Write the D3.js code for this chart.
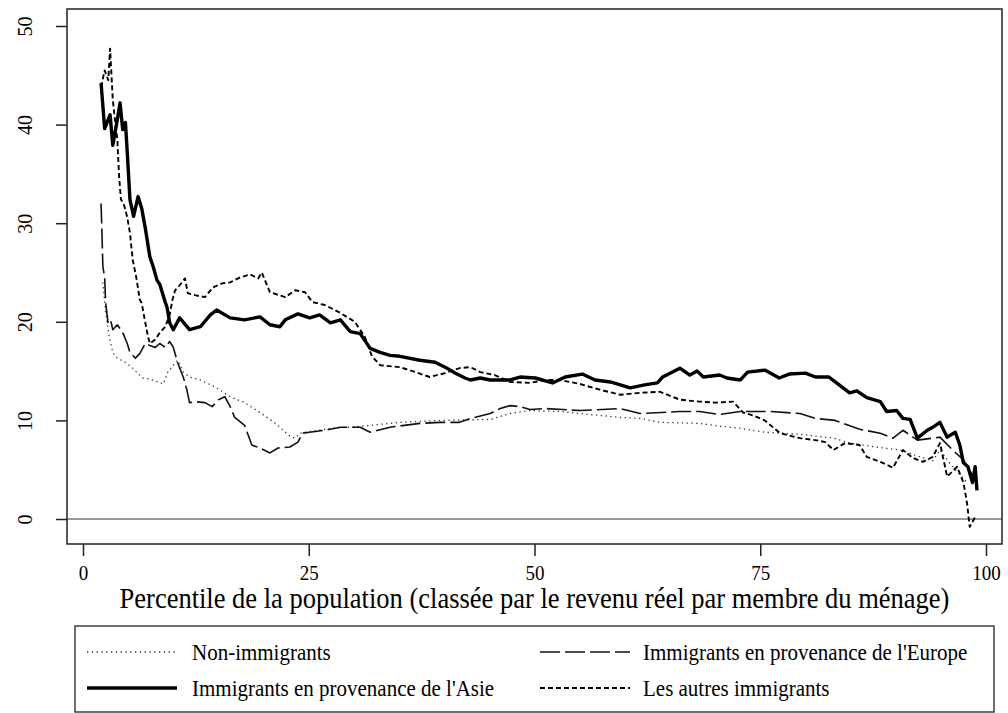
<!DOCTYPE html>
<html>
<head>
<meta charset="utf-8">
<script src="https://cdn.jsdelivr.net/npm/d3@7"></script>
<style>
  body { margin: 0; background: #fff; }
  text { font-family: "Liberation Serif", "Times New Roman", serif; fill: #000; }
</style>
</head>
<body>
<svg></svg>
<script>
const width = 1008;
const height = 713;

// percentile, value pairs
const nonImmigrants = [
  [2.2,24.0],[2.5,21.0],[2.9,18.5],[3.3,16.9],[3.8,16.3],[4.7,15.9],[5.5,15.3],[6.6,14.3],
  [7.4,14.2],[8.3,13.9],[8.9,13.7],[9.4,14.9],[10.0,15.6],[10.5,16.1],[11.1,14.9],[11.8,14.4],
  [13.0,14.1],[14.6,13.4],[16.3,12.4],[17.9,11.8],[19.6,10.8],[21.3,9.7],[22.9,8.4],[23.5,8.2],
  [24.0,8.7],[27.4,9.2],[30.7,9.4],[35.1,9.8],[39.5,10.0],[45.1,10.1],[47.3,10.7],[49.5,11.0],
  [52.8,10.9],[55.0,10.7],[59.5,10.3],[61.7,10.2],[63.9,9.8],[68.3,9.7],[70.5,9.4],[72.8,9.2],
  [75.5,8.8],[79.4,8.6],[83.1,8.2],[84.9,7.7],[88.6,7.2],[90.5,7.0],[92.7,6.3],[94.1,5.9],
  [94.9,7.0],[96.3,5.3],[97.9,3.7]
];

const europe = [
  [2.0,32.0],[2.1,29.0],[2.2,25.6],[2.4,24.5],[2.5,22.0],[2.8,19.7],[3.1,20.0],[3.3,19.2],
  [3.8,19.7],[4.4,18.9],[4.9,17.8],[5.2,16.9],[5.8,16.3],[6.3,16.8],[6.9,17.8],[7.4,17.6],
  [8.0,17.4],[8.5,17.8],[9.1,17.4],[9.6,18.0],[10.0,17.4],[10.5,15.8],[11.1,14.4],[11.5,13.1],
  [11.8,11.8],[12.4,11.9],[13.5,11.8],[14.3,11.4],[15.0,12.1],[15.7,12.4],[16.3,11.4],[16.8,10.3],
  [17.9,9.5],[18.3,8.5],[18.7,7.5],[19.6,7.2],[20.7,6.7],[21.6,7.2],[22.9,7.3],[23.8,7.8],
  [24.3,8.7],[25.1,8.8],[26.8,9.0],[28.5,9.3],[30.7,9.3],[31.8,8.8],[34.0,9.3],[37.3,9.7],
  [39.5,9.8],[41.7,9.8],[42.9,10.2],[45.1,10.7],[46.2,11.2],[47.3,11.5],[48.4,11.4],[49.5,11.1],
  [51.2,11.2],[55.0,11.0],[59.5,11.2],[61.7,10.7],[66.1,10.9],[68.3,10.9],[70.5,10.6],[72.8,10.9],
  [76.1,10.9],[79.4,10.7],[81.1,10.2],[83.3,10.0],[84.2,9.7],[86.0,9.1],[88.3,8.7],[89.7,8.2],
  [90.8,9.0],[92.4,8.0],[94.9,8.3],[96.3,7.0],[97.5,6.0],[98.6,4.3],[99.0,3.5]
];

const asia = [
  [2.0,44.2],[2.4,39.6],[3.0,41.0],[3.3,37.9],[3.8,40.5],[4.1,42.2],[4.4,39.5],[4.7,40.2],
  [4.9,37.2],[5.2,32.4],[5.6,30.7],[6.1,32.7],[6.5,31.5],[6.9,29.5],[7.4,26.6],[7.8,25.5],
  [8.2,24.2],[8.5,23.8],[9.1,22.0],[9.3,21.5],[9.6,19.9],[10.0,19.2],[10.7,20.4],[11.8,19.2],
  [13.0,19.5],[14.1,20.7],[14.8,21.2],[16.3,20.4],[17.9,20.2],[19.6,20.5],[20.7,19.7],[21.8,19.5],
  [22.4,20.2],[23.8,20.8],[25.1,20.4],[26.2,20.7],[27.4,19.9],[28.5,20.2],[29.6,19.0],[30.7,18.8],
  [31.8,17.3],[32.9,16.9],[34.0,16.6],[35.1,16.5],[37.3,16.1],[39.0,15.9],[40.1,15.4],[41.2,14.8],
  [42.3,14.3],[42.9,14.1],[44.0,14.3],[45.1,14.1],[47.3,14.1],[48.4,14.4],[50.1,14.3],[52.0,13.8],
  [53.4,14.4],[55.3,14.7],[56.7,14.1],[58.4,13.9],[60.6,13.3],[62.2,13.6],[63.6,13.8],[64.2,14.4],
  [66.1,15.3],[67.2,14.6],[68.0,15.0],[68.7,14.4],[70.5,14.6],[71.3,14.3],[72.8,14.1],[73.6,14.9],
  [75.5,15.1],[77.1,14.3],[78.2,14.7],[80.0,14.8],[81.1,14.4],[82.6,14.4],[83.3,13.9],[84.9,12.8],
  [85.7,13.0],[86.8,12.3],[88.3,11.9],[89.0,10.9],[90.1,11.0],[90.8,10.2],[91.6,10.1],[92.4,8.2],
  [93.5,9.0],[94.1,9.3],[94.9,9.8],[95.7,8.3],[96.6,8.8],[97.1,7.5],[97.5,5.7],[98.0,5.3],
  [98.5,3.7],[98.8,5.3],[99.0,2.9]
];

const others = [
  [2.0,43.8],[2.4,45.5],[2.8,44.5],[3.0,47.7],[3.3,42.5],[3.5,40.8],[3.8,38.5],[4.0,34.7],
  [4.2,32.4],[4.5,32.0],[4.9,30.6],[5.2,29.0],[5.5,26.3],[5.9,24.5],[6.3,22.2],[6.5,21.9],
  [6.9,19.9],[7.2,18.5],[7.4,17.8],[8.0,18.2],[8.5,18.9],[9.1,19.5],[9.6,20.7],[9.9,22.2],
  [10.2,23.2],[10.7,23.7],[11.3,24.4],[11.6,22.9],[12.4,22.7],[13.5,22.5],[14.4,23.5],[15.4,23.9],
  [16.3,24.0],[17.4,24.5],[18.5,24.8],[19.4,24.4],[19.8,25.0],[20.7,23.0],[22.4,22.5],[23.5,23.2],
  [24.6,23.0],[25.4,22.0],[26.8,21.7],[28.5,20.9],[30.1,20.0],[31.2,18.5],[32.0,16.5],[32.9,15.6],
  [35.1,15.4],[36.8,14.9],[38.4,14.4],[40.1,14.8],[41.7,15.3],[42.9,15.4],[44.0,14.9],[45.6,14.6],
  [47.3,13.9],[49.5,13.8],[51.2,14.1],[52.8,14.1],[55.0,13.7],[57.3,13.1],[59.5,12.6],[61.7,12.8],
  [63.9,12.9],[66.1,12.1],[68.3,11.9],[70.0,11.8],[72.0,11.9],[73.1,10.8],[74.2,10.5],[75.5,10.0],
  [77.2,8.7],[79.4,8.2],[81.1,8.0],[82.2,7.8],[83.1,7.0],[84.4,7.7],[86.0,7.5],[86.8,6.3],
  [88.3,5.8],[89.7,5.2],[90.8,7.0],[91.9,6.2],[93.0,5.8],[94.1,6.3],[94.9,7.7],[95.7,4.3],
  [96.8,5.3],[97.5,3.7],[97.9,1.6],[98.2,-0.8],[98.8,0.2]
];

const xTicks = [0, 25, 50, 75, 100];
const yTicks = [0, 10, 20, 30, 40, 50];

const seriesNames = [
  'Non-immigrants',
  "Immigrants en provenance de l'Europe",
  "Immigrants en provenance de l'Asie",
  'Les autres immigrants'
];

const styles = {
  'Non-immigrants': { w: 1.3, dash: '1.3,3.5', color: '#333' },
  "Immigrants en provenance de l'Europe": { w: 1.6, dash: '20,5', color: '#111' },
  "Immigrants en provenance de l'Asie": { w: 3.4, dash: null, color: '#000' },
  'Les autres immigrants': { w: 1.9, dash: '5,3', color: '#000' }
};

const svg = d3.select('svg')
  .attr('width', width)
  .attr('height', height);

const frame = { left: 67, top: 9, right: 1002, bottom: 544 };

const x = d3.scaleLinear().domain([0, 100]).range([83, 986]);
const y = d3.scaleLinear().domain([0, 50]).range([519, 26]);

// frame
svg.append('rect')
  .attr('x', frame.left)
  .attr('y', frame.top)
  .attr('width', frame.right - frame.left)
  .attr('height', frame.bottom - frame.top)
  .attr('fill', 'none')
  .attr('stroke', '#222')
  .attr('stroke-width', 1.5);

// zero line
svg.append('line')
  .attr('x1', frame.left).attr('x2', frame.right)
  .attr('y1', y(0)).attr('y2', y(0))
  .attr('stroke', '#333')
  .attr('stroke-width', 1);

// axes
const xAxis = d3.axisBottom(x).tickValues(xTicks).tickSize(12).tickPadding(0);
const gx = svg.append('g')
  .attr('transform', `translate(0,${frame.bottom})`)
  .call(xAxis);
gx.select('.domain').remove();
gx.selectAll('line').attr('stroke', '#222').attr('stroke-width', 1.5);
gx.selectAll('text')
  .attr('font-size', 19)
  .attr('font-family', '"Liberation Serif", serif')
  .attr('y', null).attr('dy', null)
  .attr('transform', 'translate(0,36) scale(1,1.15)');

const yAxis = d3.axisLeft(y).tickValues(yTicks).tickSize(11);
const gy = svg.append('g')
  .attr('transform', `translate(${frame.left},0)`)
  .call(yAxis);
gy.select('.domain').remove();
gy.selectAll('line').attr('stroke', '#222').attr('stroke-width', 1.5);
gy.selectAll('text')
  .attr('font-size', 20)
  .attr('font-family', '"Liberation Serif", serif')
  .attr('x', null).attr('dy', null)
  .attr('text-anchor', 'middle')
  .attr('transform', 'translate(-35,0) rotate(-90) scale(1,1.1)');

svg.append('text')
  .attr('text-anchor', 'middle')
  .attr('font-size', 26.5)
  .attr('transform', `translate(${(frame.left + frame.right) / 2},608) scale(1,1.08)`)
  .text('Percentile de la population (classée par le revenu réel par membre du ménage)');

// lines
const line = d3.line()
  .x(d => x(d[0]))
  .y(d => y(d[1]));

const data = [nonImmigrants, europe, others, asia];
const order = [seriesNames[0], seriesNames[1], seriesNames[3], seriesNames[2]];

svg.append('g')
  .selectAll('path')
  .data(data)
  .enter()
  .append('path')
  .attr('d', line)
  .attr('fill', 'none')
  .attr('stroke', (d, i) => styles[order[i]].color)
  .attr('stroke-width', (d, i) => styles[order[i]].w)
  .attr('stroke-dasharray', (d, i) => styles[order[i]].dash)
  .attr('stroke-linejoin', 'round');

// legend
const legend = svg.append('g');
legend.append('rect')
  .attr('x', 75).attr('y', 626)
  .attr('width', 994 - 75).attr('height', 86)
  .attr('fill', 'none')
  .attr('stroke', '#222')
  .attr('stroke-width', 1.3);

const legendPos = [
  { sx: 87, tx: 192, y: 652 },
  { sx: 540, tx: 643, y: 652 },
  { sx: 87, tx: 192, y: 688 },
  { sx: 540, tx: 643, y: 688 }
];

seriesNames.forEach((name, i) => {
  const p = legendPos[i];
  const s = styles[name];
  legend.append('line')
    .attr('x1', p.sx).attr('x2', p.sx + 90)
    .attr('y1', p.y).attr('y2', p.y)
    .attr('stroke', s.color)
    .attr('stroke-width', s.w)
    .attr('stroke-dasharray', s.dash);
  legend.append('text')
    .attr('font-size', 21)
    .attr('transform', `translate(${p.tx},${p.y + 8}) scale(1,1.08)`)
    .text(name);
});
</script>
</body>
</html>
